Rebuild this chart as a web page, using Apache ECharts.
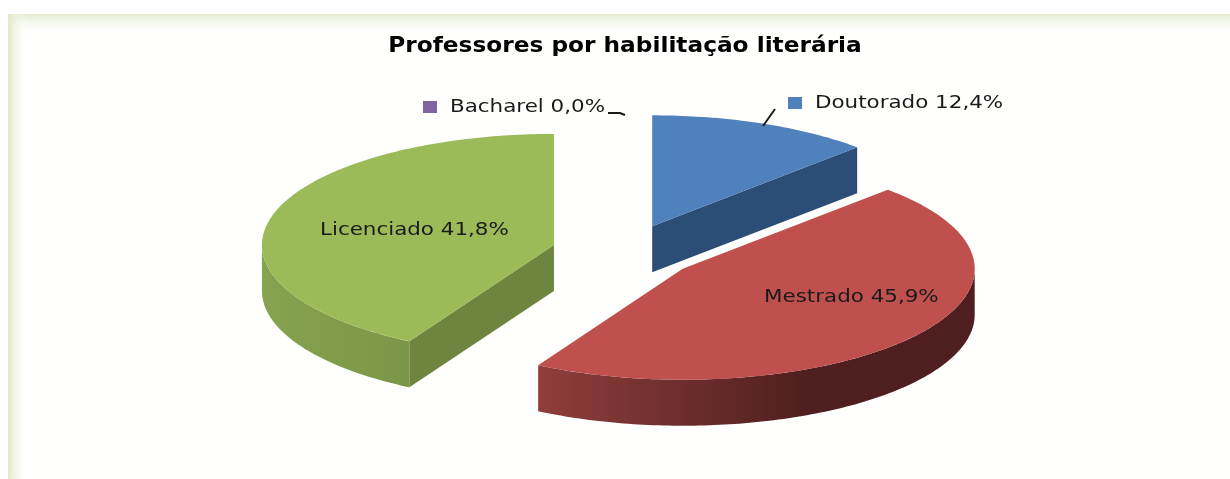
<!DOCTYPE html>
<html>
<head>
<meta charset="utf-8">
<style>
  html, body { margin: 0; padding: 0; background: #fff; }
  #main { width: 1230px; height: 479px; }
</style>
<script src="https://cdn.jsdelivr.net/npm/echarts@6/dist/echarts.min.js"></script>
</head>
<body>
<div id="main"></div>
<script>
var chartTitle = 'Professores por habilitação literária';
var categories = ['Doutorado', 'Mestrado', 'Licenciado', 'Bacharel'];
var percents = [12.4, 45.9, 41.8, 0.0];

// look of the slices, same order as categories
var topColors = ['#4f81bd', '#c0504d', '#9bbb59', '#8064a2'];
var cutColors = ['#2c4d75', '#4f1f1f', '#6e853f', '#4d3b62'];
var rimStops = [
    [[0, '#2c4d75'], [1, '#2c4d75']],
    [[0, '#8f3e3c'], [0.62, '#4e1f1e'], [1, '#4e1f1e']],
    [[0, '#86a350'], [0.6, '#7f9b4a'], [1, '#7a9647']],
    [[0, '#4d3b62'], [1, '#4d3b62']]
];
var labelSpots = [
    { x: 815, y: 103, key: true },
    { x: 764, y: 297 },
    { x: 320, y: 230 },
    { x: 450, y: 107, key: true }
];
var leaders = [
    [[763, 126], [775, 109]],
    null,
    null,
    [[608, 113], [620, 113], [625, 115]]
];

var cx = 624.5, cy = 252;     // pie centre on the page
var rx = 292, ry = 111;       // flattened pie
var depth = 46, explode = 0.25;
var labelFont = '18px "DejaVu Sans"';
var labelStretch = 1.19;      // the picture is wider than tall

var total = percents.reduce(function (a, b) { return a + b; }, 0);

function pt(ox, oy, deg, dy) {
    var a = deg * Math.PI / 180;
    return [ox + rx * Math.sin(a), oy - ry * Math.cos(a) + (dy || 0)];
}

function arc(ox, oy, from, to, dy) {
    var pts = [];
    var n = Math.max(2, Math.ceil(Math.abs(to - from)));
    for (var i = 0; i <= n; i++) {
        pts.push(pt(ox, oy, from + (to - from) * i / n, dy));
    }
    return pts;
}

function horizontalFill(stops) {
    return {
        type: 'linear', x: 0, y: 0, x2: 1, y2: 0,
        colorStops: stops.map(function (s) { return { offset: s[0], color: s[1] }; })
    };
}

function cutFace(ox, oy, deg, i) {
    var e = pt(ox, oy, deg, 0);
    return {
        type: 'polygon',
        shape: { points: [[ox, oy], e, [e[0], e[1] + depth], [ox, oy + depth]] },
        style: { fill: cutColors[i] }
    };
}

function renderSlice(params, api) {
    var i = params.dataIndex;
    var value = api.value(0);
    var before = 0;
    for (var k = 0; k < i; k++) before += percents[k];
    var start = before / total * 360;
    var end = (before + value) / total * 360;
    var rad = (start + end) / 2 * Math.PI / 180;
    var ox = cx + explode * rx * Math.sin(rad);
    var oy = cy - explode * ry * Math.cos(rad);
    var children = [];

    if (value > 0) {
        // front rim, only the part of the edge that faces the viewer
        var a = Math.max(start, 90), b = Math.min(end, 270);
        if (b > a) {
            var rim = arc(ox, oy, a, b, 0).concat(arc(ox, oy, b, a, depth));
            children.push({
                type: 'polygon',
                shape: { points: rim },
                style: { fill: horizontalFill(rimStops[i]) }
            });
        }
        // cut faces that can be seen
        if (end > 0 && end < 90) children.push(cutFace(ox, oy, end, i));
        if (start > 180 && start < 270) children.push(cutFace(ox, oy, start, i));
        // top face
        children.push({
            type: 'polygon',
            shape: { points: [[ox, oy]].concat(arc(ox, oy, start, end, 0)) },
            style: { fill: topColors[i] }
        });
    }

    var spot = labelSpots[i];
    if (spot.key) {
        children.push({
            type: 'rect',
            shape: { x: spot.x - 27, y: spot.y - 6, width: 14, height: 12 },
            style: { fill: topColors[i] }
        });
    }
    if (leaders[i]) {
        children.push({
            type: 'polyline',
            shape: { points: leaders[i] },
            style: { fill: 'none', stroke: '#1a1a1a', lineWidth: 2 }
        });
    }
    children.push({
        type: 'text',
        x: spot.x,
        y: spot.y,
        scaleX: labelStretch,
        style: {
            text: categories[i] + ' ' + value.toFixed(1).replace('.', ',') + '%',
            x: 0,
            y: 0,
            fill: '#1a1a1a',
            font: labelFont,
            textVerticalAlign: 'middle'
        }
    });
    return { type: 'group', children: children };
}

var chart = echarts.init(document.getElementById('main'), null, { renderer: 'canvas' });
chart.setOption({
    animation: false,
    backgroundColor: '#fff',
    graphic: [
        {
            type: 'rect', z: -1,
            shape: { x: 8, y: 14, width: 1222, height: 465 },
            style: { fill: '#fffffe' }
        },
        {
            type: 'rect', z: -1,
            shape: { x: 8, y: 14, width: 1222, height: 20 },
            style: {
                fill: {
                    type: 'linear', x: 0, y: 0, x2: 0, y2: 1,
                    colorStops: [{ offset: 0, color: '#e2ebcd' }, { offset: 1, color: 'rgba(255,255,254,0)' }]
                }
            }
        },
        {
            type: 'rect', z: -1,
            shape: { x: 8, y: 14, width: 20, height: 465 },
            style: {
                fill: {
                    type: 'linear', x: 0, y: 0, x2: 1, y2: 0,
                    colorStops: [{ offset: 0, color: '#dfe8c8' }, { offset: 1, color: 'rgba(255,255,254,0)' }]
                }
            }
        },
        {
            type: 'text',
            x: 625,
            y: 47,
            scaleX: 1.107,
            style: {
                text: chartTitle,
                x: 0,
                y: 0,
                fill: '#000',
                font: 'bold 21px "DejaVu Sans"',
                textAlign: 'center',
                textVerticalAlign: 'middle'
            }
        }
    ],
    series: [{
        type: 'custom',
        coordinateSystem: 'none',
        renderItem: renderSlice,
        data: percents.map(function (v, i) { return { name: categories[i], value: [v] }; })
    }]
});
</script>
</body>
</html>
